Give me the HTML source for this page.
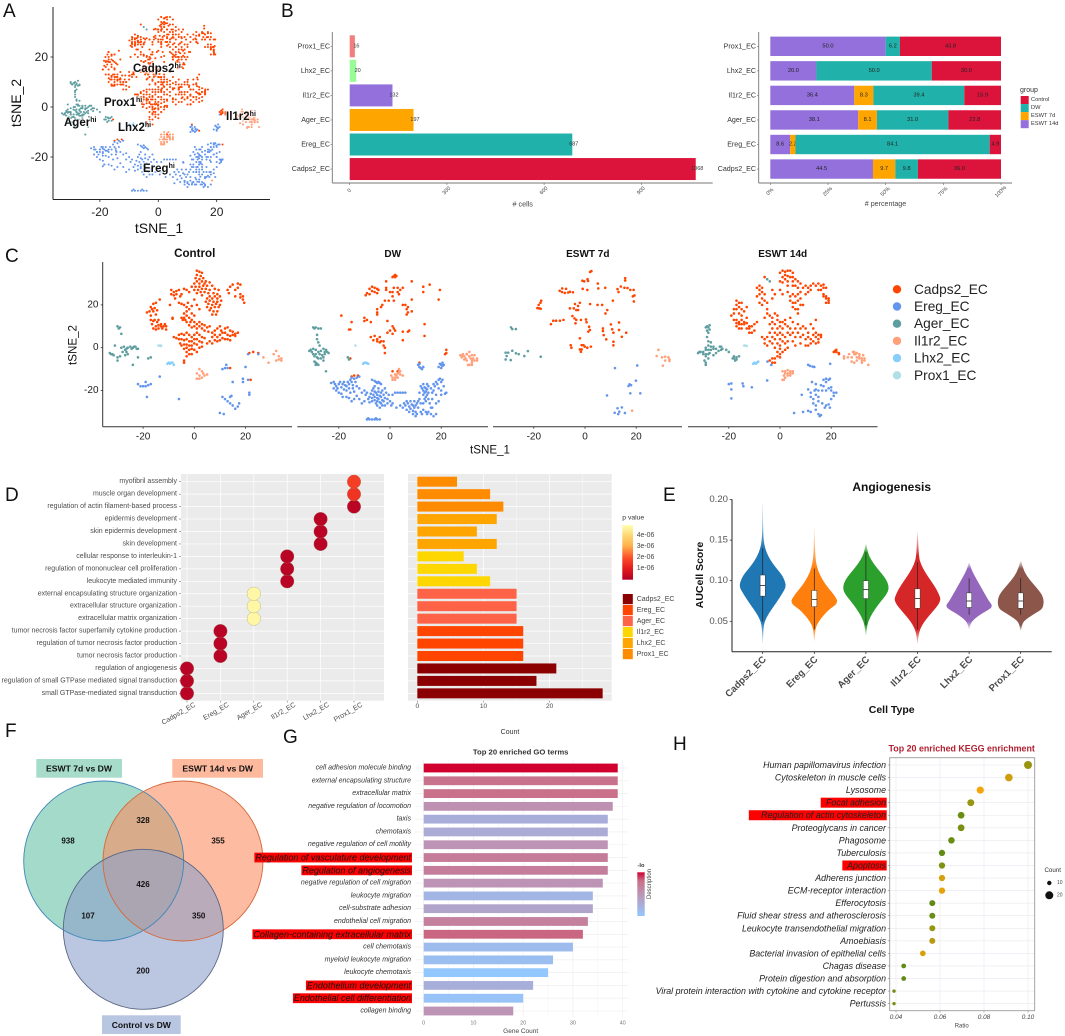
<!DOCTYPE html>
<html lang="en">
<head>
<meta charset="utf-8">
<title>Endothelial cell composite figure</title>
<style>
html,body{margin:0;padding:0;background:#fff;}
svg{display:block;font-family:"Liberation Sans",sans-serif;filter:blur(.3px);}
</style>
</head>
<body>
<svg id="figure" xmlns="http://www.w3.org/2000/svg" width="1065" height="1036" viewBox="0 0 1065 1036">
<defs id="sharedDefs">
<linearGradient id="pGrad" x1="0" y1="1" x2="0" y2="0">
<stop offset="0" stop-color="#b10026"/><stop offset=".2" stop-color="#e31a1c"/><stop offset=".4" stop-color="#fc4e2a"/><stop offset=".62" stop-color="#feb24c"/><stop offset=".82" stop-color="#fed976"/><stop offset="1" stop-color="#ffffb2"/>
</linearGradient>
<linearGradient id="goGrad" x1="0" y1="1" x2="0" y2="0">
<stop offset="0" stop-color="#93c8ff"/><stop offset=".5" stop-color="#bd94b5"/><stop offset=".8" stop-color="#c9708b"/><stop offset="1" stop-color="#d0002f"/>
</linearGradient>
</defs>
<rect width="1065" height="1036" fill="#fff"/>
<g font-size="19" fill="#111">
<text x="3" y="17">A</text>
<text x="281" y="17">B</text>
<text x="5" y="262">C</text>
<text x="5" y="501">D</text>
<text x="663" y="501">E</text>
<text x="5" y="737">F</text>
<text x="283" y="743">G</text>
<text x="673" y="750">H</text>
</g>
<g id="panelA"></g>
<g id="panelALabels" font-size="11.5" font-weight="bold" fill="#111" stroke="#fff" stroke-opacity=".55" stroke-width="2.5" paint-order="stroke">
<text x="133" y="72">Cadps2<tspan dy="-4" font-size="7">hi</tspan></text>
<text x="104" y="106">Prox1<tspan dy="-4" font-size="7">hi</tspan></text>
<text x="64" y="126">Ager<tspan dy="-4" font-size="7">hi</tspan></text>
<text x="118" y="131">Lhx2<tspan dy="-4" font-size="7">hi</tspan></text>
<text x="226" y="120">Il1r2<tspan dy="-4" font-size="7">hi</tspan></text>
<text x="143" y="172">Ereg<tspan dy="-4" font-size="7">hi</tspan></text>
</g>
<g id="panelB"></g>
<g id="panelC"></g>
<g id="panelD"></g>
<g id="panelE"></g>
<g>
<rect x="36.3" y="759" width="85.7" height="18.7" fill="#a6dcc9"/>
<rect x="172.3" y="759" width="90.7" height="18.7" fill="#fdb99e"/>
<rect x="102" y="1015.3" width="78.7" height="18.7" fill="#b9c6e2"/>
<circle cx="103.7" cy="861" r="80" fill="#66c2a5" fill-opacity=".6"/>
<circle cx="183" cy="861" r="80" fill="#fc8d62" fill-opacity=".6"/>
<circle cx="143.3" cy="929.3" r="80" fill="#8da0cb" fill-opacity=".6"/>
<circle cx="103.7" cy="861" r="80" fill="none" stroke="#3f86b8" stroke-width=".9"/>
<circle cx="183" cy="861" r="80" fill="none" stroke="#d4683a" stroke-width=".9"/>
<circle cx="143.3" cy="929.3" r="80" fill="none" stroke="#5a6684" stroke-width=".9"/>
<g font-weight="bold" fill="#111" text-anchor="middle" dominant-baseline="central">
<text x="79" y="768.5" font-size="8.6">ESWT 7d vs DW</text>
<text x="217.7" y="768.5" font-size="8.6">ESWT 14d vs DW</text>
<text x="141.3" y="1024.8" font-size="8.6">Control vs DW</text>
<g font-size="8">
<text x="68" y="841">938</text>
<text x="143" y="820.7">328</text>
<text x="218" y="841">355</text>
<text x="143" y="884.7">426</text>
<text x="88" y="916">107</text>
<text x="198.7" y="916">350</text>
<text x="143" y="971">200</text>
</g>
</g>
</g>
<g id="panelG"></g>
<g id="panelH"></g>
</svg>

<script>
const SVG_NS = 'http://www.w3.org/2000/svg';
function mk(parent, tag, attrs, content) {
  const e = document.createElementNS(SVG_NS, tag);
  for (const k in attrs) e.setAttribute(k, attrs[k]);
  if (content !== undefined) e.textContent = content;
  parent.appendChild(e);
  return e;
}
function seg(parent, x1, y1, x2, y2, stroke, width) {
  return mk(parent, 'line', { x1: x1, y1: y1, x2: x2, y2: y2, stroke: stroke, 'stroke-width': width });
}
function lbl(parent, x, y, s, size, anchor, fill, extra) {
  const a = Object.assign({ x: x, y: y, 'font-size': size, 'text-anchor': anchor, fill: fill, 'dominant-baseline': 'central' }, extra || {});
  return mk(parent, 'text', a, s);
}
</script>

<script>
/* ---------- Panels A and C: tSNE coordinates by condition ---------- */
const controlCadps2 = [[1,36],[2,35.5],[3,35],[1,34],[2.5,33.5],[0.5,32.5],[2,32],[3.5,32.5],[1,31],[3,31],[4.5,31],[0,30],[2,30],[4,30],[6,30.5],[-1,28.5],[0.5,28.5],[2,28.5],[3.5,29],[5,29],[7,29],[0,27],[1.5,27],[3,27.5],[4.5,27.5],[6,27],[8,27.5],[9.5,27],[1,25.5],[2.5,26],[4,26],[5.5,25.5],[7.5,25.5],[9,25],[3,24.5],[6,24],[8,24],[10,24],[5,23],[7,23],[9,23],[4.5,21.5],[6,22],[7.5,21.5],[9,21.5],[10.5,22],[5.5,20.5],[7,20],[8.5,20.5],[10,20],[5,19],[6.5,18.5],[8,19],[9.5,19],[6,17.5],[7.5,17],[9,17],[7,15.5],[8.5,15.5],
[13,27],[14,28.5],[13.5,25.5],[16,27],[15,29.5],[17,30],[18,29.5],[17,28],[18,25],[16,24],[18,23.5],[19,24],[19,22.5],[19.5,21],
[-9,27],[-8,26],[-7,26.5],[-6,27],[-5,25],[-9,25],[-8,24.5],[-7.5,23],[-4,27.5],[-7,25],[-5.5,24],[-3,27],[-2,26],[-9.5,20],[-6,21],[-5,20.5],[-4,20],[-3,19],[-2.5,21],[-2,18],[-1,19.5],[-3,17],[-1,16],[1,20],[2,18],[0,22.5],
[-18.5,16.5],[-17.5,17],[-17,19],[-16,20.5],[-15,21],[-16.5,18],[-15.5,18.5],[-14.5,17.5],[-16,17],[-17,15],[-15,15.5],[-13.5,22.5],[-17,13],[-16,12.5],[-15.5,13],[-14.5,12],[-14,13],[-13,11],[-16.5,11],[-15,10],[-14,10.5],[-13,10],[-12,10],[-11.5,11],[-11,10],[-12.5,9],[-14,9],[-15,8.5],[-16,9],[-11,8.5],[-8.5,13.5],[-8.5,14],
[-4,16],[-3,15],[-5,14],[-4,14],[-3.5,13],[-2,14],[-1,13],[0,15],[-4.5,13],[-3,12],[-1.5,12],[0,12],[1,11],[2,12],[3,11],[0,10],[-2,10.5],[-1,9.5],[1,9],[2,10],[3,9],[4,10.5],[5,9.5],[6,10],[4,8],[5.5,7.5],[7,7],[8,8],[9,9],[10,10],[10.5,8],[11,7],[12,9],[13,9.5],[14,8],[15,7.5],[16,6.5],[17,7],[16,5.5],[15,6],[14,5.5],[13,6],[12,7],[10,6],[9,5],[8,6],[7,5],[11,4.5],[12,4],[13,4],[14,3.5],[10,3.5],[9,3],[8,3.5],[7,2],[6,3],[5,2],[4,4.5],[3,5],[2,6],[1,7],[0,6],[-1,5],[-2,6],[-3,7],[-4,6],[-5,6.5],[-6,6],[-8,5],[-7,4.5],[-6,4],[-5,4],[-4,3.5],[-3,4],[-2,3],[-1,3],[0,4],[1,4],[2,3],[3,2.5],[-5.5,2],[-5,1],[-4,1.5],[-3,1.5],[-2,1],[-1,1],[0,2],[1,1.5],[2,0],[3,0.5],[-3,0],[-2,-1],[-1,-0.5],[0,-1],[1,-2],[-3,-2],[-2,-3],[-1,-3],[-4,-0.5],[-3,-4],[-4,-6],[-4,-7],[21.5,-2.5],[23,-2],[25,-2.5],[22,-15],[14,-9.5]];
const controlEreg = [[-22,-17],[-21,-18],[-20,-18],[-19,-16],[-19,-18],[-18,-17.5],[-17,-17],[-18.5,-23],[-13.5,-13.5],[-6,-24],[10,-30.5],[11.5,-31],[11,-23],[12,-24],[13,-25],[14,-26],[14,-23],[14.5,-22.5],[15,-27],[16,-28.5],[17,-27.5],[17.5,-26],[15,-16],[19,-16],[19,-14.5],[21,-15],[21.5,-21],[21.5,-22],[20,-9],[12,-9.5],[12.5,-8],[13,-9.5],[11,-10],[21,-3],[25,-3]];
const controlAger = [[-30,10],[-29.5,9],[-29,9.5],[-28.5,6.5],[-31,1],[-33,-2.5],[-32.5,-3],[-32,-3],[-31.5,-3.5],[-30,-6],[-30,-4.5],[-29,-4],[-28,-2],[-28.5,0],[-27.5,0.5],[-27,-1],[-26.5,-2],[-26,-3],[-27,-3.5],[-26.5,-0.5],[-26,0],[-25,0.5],[-24.5,-0.5],[-24,0],[-23.5,0.5],[-23,0.5],[-22.5,-0.5],[-22,-0.5],[-22,-4.5],[-18,-5],[-17,-4.5],[-24,-8]];
const controlIl1r2 = [[2,-10],[3,-11],[3.5,-12],[1,-12],[2,-13],[4,-13],[5,-12.5],[1,-14.5],[2,-14.5],[3,-14],[27,-4.5],[29,-7],[31,-3],[32,-1.5],[33,-4],[33,-5.5],[34,-5],[34,-6],[32,-6]];
const controlLhx2 = [[-10.5,-7.5],[-10,-7],[-9.5,-7.5],[-9,-7],[-8.5,-7],[-8,-8]];
const controlProx1 = [[-14,1],[-13.5,1],[-13,1],[-13,0.8]];

const dwCadps2 = [[1.5,33.5],[2,34],[2.5,33.5],[1,33],[2,33],[-1.5,31],[8.5,31],[-7,28.5],[-6,28],[-8,27.5],[-7,26.5],[-6,26],[-5,27.5],[-4.5,27],[-5,25.5],[-9.5,24.5],[-9,25.5],[-8,25],[-1.5,27],[-1.5,28],[1.5,28],[0,26],[1,26],[3,28],[4,27],[5,28],[3,26],[3.5,25],[1,24],[-0.5,22],[1.5,22],[-2,22],[-3,20],[-3.5,19],[-5,18],[-5,16.5],[-5,15.5],[5,20],[6,20],[7,19],[6.5,18],[7,16.5],[8.5,17],[6.5,15.5],[8.5,22.5],[13,28.5],[13,26],[15.5,29.5],[19.5,27],[19,22.5],[-19,15],[-15,12],[-10,14],[-10,12.5],[-9,13],[-7.5,12],[-15.5,8.5],[-16,8.5],[-1,12.5],[1,10],[1.5,9],[0,8],[-1,7],[1,6.5],[2,8],[5,7.5],[7,7.5],[7.5,8],[13.5,11],[13.5,5.5],[5,3.5],[-7.5,5],[-6,5.5],[-5,4],[-6.5,3.5],[-4,5],[-5,3],[-4,2.5],[-3.5,3],[-2.5,3],[-2.5,1],[-2,0],[-2,-2.5],[22,-1],[22,-2.5],[21.5,-3],[11.5,-7],[-15,-13.5],[-14,-13],[-12.5,-13],[-15.5,-5],[1,-11],[3,-11],[30,-3]];
const dwEreg = [[-23,-16.5],[-22,-16],[-21.5,-17],[-21,-18],[-22,-19],[-21,-20],[-20.5,-19],[-20,-17],[-19.5,-16],[-19,-18.5],[-18.5,-17],[-18,-16],[-17.5,-17.5],[-17,-18],[-16.5,-16],[-16,-17],[-15.5,-15],[-15,-16],[-14.5,-17.5],[-15,-14],[-14,-14.5],[-13.5,-16],[-13,-14],[-12,-13.5],[-18,-19.5],[-17,-20],[-16,-19],[-15.5,-21],[-14.5,-19],[-14,-20.5],[-13,-18],[-12,-19],[-20,-21],[-19,-21.5],[-18.5,-23],[-17,-23],[-16,-23.5],[-15,-25],[-14,-24],[-13,-22.5],[-12,-24],[-11,-21],[-10,-20],[-11,-26],[-10,-25],[-9.5,-22],
[-9,-21],[-8.5,-24],[-8,-23],[-8,-25.5],[-7.5,-21.5],[-7,-20],[-7,-23.5],[-7,-25],[-6.5,-22],[-6,-18],[-6.5,-19],[-6,-20.5],[-6,-23],[-6,-24.5],[-5.5,-26],[-5.5,-21],[-5,-22],[-5,-23.5],[-5,-25],[-5,-27],[-4.5,-19],[-4.5,-20.5],[-4.5,-24],[-4,-22.5],[-4,-25.5],[-4,-28],[-3.5,-21],[-3.5,-23],[-3.5,-26],[-3,-24.5],[-3,-20],[-3,-27],[-2.5,-22],[-2.5,-25],[-2,-23.5],[-2,-19],[-2,-27],[-1.5,-21],[-1,-24],[-1,-26],[-0.5,-22],[0,-25],[0.5,-27],[-7,-15],[-6,-15.5],[-5.5,-16],[-5,-16.5],[-4.5,-16],[-4,-16.5],[-3.5,-17],
[-9,-33.5],[-8,-33.5],[-7,-33.5],[-6,-33.5],[-5,-33.5],[-4,-33.5],[-8.5,-33],[-5.5,-33],
[1,-22],[2,-21],[3,-21],[4,-21],[5,-21],[6,-21],[1,-26],[2.5,-28],[4,-27],[5,-28],[5.5,-26],[6,-27],[6.5,-25],[6.5,-29],[7,-26],[7.5,-27.5],[7.5,-30],[8,-25],[8,-28.5],[8.5,-26.5],[9,-27],[9,-29.5],[9,-31],[9.5,-25],[9.5,-28],[10,-27],[10,-30],[10,-32],[10.5,-26],[10.5,-31],[11,-28],[11,-25],[12,-30],[12.5,-31],[13,-29],[14,-30],[14.5,-31],[15,-30],[16,-31],[17,-32],[18,-31],[16,-28],
[12,-18],[12.5,-19],[13,-17],[13,-20],[13,-22],[13.5,-18.5],[13.5,-21],[13.5,-24],[14,-19],[14,-20.5],[14,-23],[14,-25],[14.5,-17],[14.5,-19.5],[14.5,-22],[15,-18],[15,-21],[15,-24],[11.5,-21],[11.5,-24],[12,-26],[13,-26],[15.5,-26],[16,-19],[16.5,-21],[16.5,-24],[17,-17],[17,-20],[17.5,-18],[18,-16],[18,-22],[18.5,-17],[19,-15],[19,-19],[19.5,-14.5],[20,-16],[20,-20],[20.5,-15],[21,-18],[21.5,-21.5],[22,-21],[20,-22],[19,-25],[18,-26],[16.5,-28],
[11,-8],[11.5,-9],[12,-9.5],[12.5,-10],[11.5,-7.5],[13,-9],[19.5,-7.5],[20,-8],[20.5,-8.5],[20,-9.5],[19,-9],[20.5,-7],[21,-8]];
const dwAger = [[-30,9.5],[-29.5,9],[-29,9.5],[-28,9],[-27,9],[-28.5,6],[-28.5,4],[-28,2.5],[-27.5,1],[-31,-1],[-31.5,-1.5],[-30.5,-2],[-30,-0.5],[-30,-3],[-29.5,-4],[-29,-1],[-29,-3],[-28.5,-4.5],[-28,-2],[-28,-5],[-27.5,-3],[-27,-1.5],[-27,-5],[-26.5,-3.5],[-26,-0.5],[-25.5,-2],[-25.5,-3],[-25,-1],[-24.5,-2],[-24,-2.5],[-29.5,-6.5],[-29,-7],[-29,-8],[-28.5,-7.5],[-28,-8],[-26,-6],[-26,-4.5],[-25,-11],[-16.5,-4.5],[-16,-5.5]];
const dwIl1r2 = [[0.5,-13],[1,-14],[2,-15],[2,-12.5],[2.5,-13],[3,-14],[3,-12],[3.5,-11.5],[4,-12.5],[4,-11],[5,-13],[1,-15],[2,-14],[3.5,-10],[27.5,-3.5],[28,-4.5],[28.5,-3],[29,-4],[29.5,-5],[30,-3],[30,-6],[31,-4],[31,-2],[31.5,-5],[32,-3.5],[32,-6],[32,-7],[32.5,-5],[33,-3.5],[33,-6],[34,-5],[34,-6],[30.5,-8],[31,-8],[32,-8],[28,-4],[29,-5.5]];
const dwLhx2 = [[-10.5,-7.5],[-10,-7],[-9.5,-7],[-9,-7.2],[-8.5,-7.5]];
const dwProx1 = [[-13.5,1]];

const eswt7Cadps2 = [[2.5,35.8],[2,35.4],[-1,31.3],[-0.3,31],[1,32],[1.2,31.2],[5,30],[5.2,27.7],[7.9,28],[-0.9,27.5],[0.9,27],[15.7,32.5],[15.7,31.4],[14,28.6],[12.7,27.4],[13.1,26],[15.4,28],[16.6,27.9],[17.7,27],[19,27],[18.7,24],[19.3,24.4],[19.1,21.6],[10.9,22],[-9.9,26.6],[-8.9,27.7],[-9,26],[-7.9,25.6],[-7.4,27.5],[-6.6,25.8],[-5.9,26.1],[-4.7,25.9],[-17.1,22],[-17.4,21],[-18.1,20],[-18.6,18.5],[-17.3,18.2],[-17.9,18.4],
[-3.9,20.4],[-2,21],[-5.9,18.4],[-4.4,18.4],[-2.7,19.5],[-3.4,17.6],[-2.7,17.6],[2,20.4],[4.9,20],[6.7,20],[8.7,17.6],[8,16],[-13.3,11],[-12.4,12.6],[-11.3,12.6],[-9.8,12.6],[-8.4,13],[-4.9,14.8],[-4.1,13.7],[-3.4,13],[-1.6,13],[0.4,13.2],[0.6,11.9],[-3.7,11.4],[1.6,9.8],[1.3,7.5],[1.9,8.3],[-2,4.4],[-5.6,1.2],[-5.3,0],[-1.3,1.2],[-0.6,1.2],[-2,-0.8],[-1.3,-0.8],[-0.1,0.5],[0.9,0],[2.3,0.5],[-1.6,-1.9],[7,9],[7,7.8],[10.1,10.9],[10.6,8.6],[13.3,11.8],[13.3,8.3],[16.1,7],[14.4,5.1],[7.3,5.9],[8.3,3.9],[11.1,7],[11.1,2.8],[11.1,1.1]];
const eswt7Ereg = [[11.7,-9.5],[20.4,-8.3],[19.9,-15.4],[17.4,-17.1],[17,-17.9],[18,-17.5],[17.7,-21.3],[21.6,-21.3],[8.6,-22.3],[14.4,-27.9],[12.7,-28.3],[11.6,-30.4],[13,-31],[15.6,-30.5],[13.4,-29.9]];
const eswt7Ager = [[-28.9,9.5],[-27,8.7],[-28.4,8.7],[-31,-2.3],[-30,-2.3],[-28.4,-1.4],[-30.6,-3.9],[-31,-5.5],[-29,-5.8],[-27,-2.6],[-25.9,-3],[-23.7,-3.9],[-22.3,-1.6],[-17.3,-4.2]];
const eswt7Il1r2 = [[28.7,-1],[28,-3.9],[30.1,-4.5],[31.3,-4.2],[32.6,-4.5],[33,-5.5],[31.3,-6],[33,-6.2],[30.4,-8.4],[18.4,-29.4]];
const eswt7Lhx2 = [];
const eswt7Prox1 = [];

const eswt14Cadps2 = [[0,35],[1,36],[2,35.5],[3,36],[4,36],[5,35],[2,34],[3,33.5],[1,33],[2,32],[4,33],[5,33],[0,31],[1,30.5],[3,31],[5,31],[6,32],[7,31],[-6,33],[3,29],[5,29],[6,29],[7,28],[8,30],[9,28],[10,29],[11,28],[12,29],[13,30],[12,27],[11,26],[10,25],[14,29],[15,30],[16,29],[17,29.5],[17,28],[18,28],[16,27],[15,27],[17,25],[18,24],[17,24],[18,23],[19,22],[19,21],[18,21],[19,23],
[-9,28],[-8,29],[-8,27],[-7,28],[-7,26],[-6,25],[-8,25],[-9,24],[-7,23],[-6,22],[-8,21],[-7,20],[-5,21],[-5,18],[-3,23],[-2,25],[-3,27],[0,27],[1,25],[3,26],[4,24],[4,22],[5,25],[6,24],[7,25],[8,26],[8,23],[5,21],[6,21],[7,22],[8,20],[9,20],[5,19],[6,18],[7,18],[7,16],
[-19,15],[-18,16],[-18,18],[-17,20],[-16,21],[-17,22],[-15,21],[-16,19],[-15,18],[-17,18],[-16,16],[-14,17],[-15,15],[-13,19],[-13,14],[-18,13],[-17,13],[-17,11.5],[-16,11],[-16,12],[-15,13],[-15,11],[-14,11],[-14,12],[-13,11.5],[-17,10],[-16,9],[-15,9],[-13,9],[-12,9],[-12,10],[-11,10],[-10,11],[-10,8],[-9,12],[-11,7],[-12,7],
[-6,14],[-5,16],[-4,15],[-3,14],[-2,16],[-1,15],[-3,12],[-2,11],[-1,13],[0,12],[-4,11],[1,12],[2,13],[0,10],[1,9],[-1,9],[2,11],[3,10],[4,14],[5,12],[6,9],[7,11],[8,9],[9,10],[10,9],[11,7],[12,11],[13,9],[14,7],[14,13],[13,6],[14,5],[15,6],[15,4],[16,6],[16,5],[15,2.5],[14,2],[13,3],[12,4],[11,5],[12,2],[11,1],[10,4],[10,1],[9,6],[8,5],[8,2],[7,7],[6,5],[6,1],[5,3],[5,7],[4,6],[4,9],[3,7],[3,3],[2,5],[2,2],[1,6],[1,3],[0,7],[0,4],[0,1],[-1,6],[-1,2],[-2,4],[-2,7],[-2,0],[-3,5],[-3,9],[-3,2],[-4,7],[-4,3],[-5,5],[-6,4],[-6,2],[-7,5],[-5,1],[-1,-2],[0,-3],[1,-2],[2,-1],[0,-0.5],[3,0],[-1,-4],[0,-4.5],[-2,-5],[-3,-5],[-3,-7],[-4,-6],[-2,-7],
[22,-1],[22,-2],[21.5,-1.5],[21,-2],[23,-2.5],[23,-3]];
const eswt14Ereg = [[-4.9,-6.5],[-3.4,-8],[-20,-17],[-19,-16.7],[-19,-19.5],[-14.6,-16.7],[-14.3,-18],[-11,-18.5],[-19,-23.7],[-5,-15.3],[11,-8],[11.7,-8.5],[12.7,-8.8],[13.4,-9],[19.6,-7.5],
[12.5,-16],[14,-17],[17,-15],[18,-14.5],[18,-16],[19,-15],[19.5,-14.5],[14,-19.5],[16,-17.5],[17,-18],[11,-19.5],[12,-21],[13.5,-20],[15,-20],[16.5,-20],[18,-20],[19,-19],[20,-18.5],[20,-20],[21,-21],[22,-21],[21,-22.5],[20,-24],[8.5,-22],[12,-23],[13,-24],[14,-22],[15,-23],[15,-25],[13,-26],[14,-27],[16.5,-26],[18,-27],[19,-26.5],[17.5,-28],[14,-29],[15,-31],[16,-31.5],[15.5,-32],[9,-30],[5.5,-30.5],[11,-29.5],[12,-30],[19.5,-28]];
const eswt14Ager = [[-29,9.5],[-28.5,10],[-28,9.5],[-27.5,10.5],[-28.5,8],[-27.5,8.5],[-28,7],[-28.5,5],[-28,3],[-27,2.5],[-28,1],[-27,0.5],[-29,0],[-29,-1],[-28,-1],[-27,-1],[-26,-0.5],[-26,0.5],[-25,-0.5],[-30,-2],[-31,-2],[-32,-2.5],[-31.5,-2],[-30,-3],[-29,-3],[-28,-3],[-27.5,-2.5],[-26,-3.5],[-25,-2.5],[-24,-1.5],[-23.5,0.5],[-23,0.5],[-22.5,-0.5],[-23,-1],[-21,-1],[-20,-2],[-29,-4],[-28,-5],[-29.5,-6],[-29,-7],[-29,-8],[-18,-4],[-18,-5],[-17,-4.5],[-17.5,-6],[-18.5,-5],[-17,-5.5],[-16,-4],[-4,31],[-5,32]];
const eswt14Il1r2 = [[1,-11],[2,-11],[3,-10.5],[3,-12],[4,-11],[4,-12],[5,-11],[5,-12],[2,-12],[1.5,-13],[2,-14],[1,-15],[1.5,-15],[3,-13],[4,-13],[25,-4],[25,-5],[26.5,-4.5],[27,-3],[28,-4.5],[28.5,-2],[29,-3],[29,-2],[29.5,-3],[30,-2.5],[30,-4.5],[30,-6],[31,-3],[31,-4],[31,-5],[32,-5],[32,-6],[33,-5],[33,-6],[32.5,-3.5],[29,-7],[28,-6.5],[32,-7],[34.5,-8]];
const eswt14Lhx2 = [[-10.5,-7.5],[-10,-7],[-9.5,-7.5],[-9,-7],[-8.5,-6.5]];
const eswt14Prox1 = [[-14,1],[-13.5,1],[-13,0.8]];

const clusterNames = ['Cadps2_EC','Ereg_EC','Ager_EC','Il1r2_EC','Lhx2_EC','Prox1_EC'];
const conditionTitles = ['Control','DW','ESWT 7d','ESWT 14d'];
const tsneXTicks = [-20,0,20];
const tsneYTicks = [-20,0,20];

const clusterColors = ['#ff4500','#6495ed','#5f9ea0','#ffa07a','#87cefa','#b0e0e6'];
const conditionPoints = [
  [controlCadps2,controlEreg,controlAger,controlIl1r2,controlLhx2,controlProx1],
  [dwCadps2,dwEreg,dwAger,dwIl1r2,dwLhx2,dwProx1],
  [eswt7Cadps2,eswt7Ereg,eswt7Ager,eswt7Il1r2,eswt7Lhx2,eswt7Prox1],
  [eswt14Cadps2,eswt14Ereg,eswt14Ager,eswt14Il1r2,eswt14Lhx2,eswt14Prox1]
];

function drawPoints(g, pts, colorIdx, xs, ys, r) {
  pts.forEach(function (p) {
    const c = mk(g, 'circle', { cx: xs(p[0]), cy: ys(p[1]), r: r, fill: clusterColors[colorIdx] });
    
    
  });
}

/* Panel A */
(function () {
  const g = document.getElementById('panelA');
  const xA = function (v) { return 158.3 + v * 2.92; };
  const yA = function (v) { return 107 - v * 2.5; };
  conditionPoints.forEach(function (clusters) {
    clusters.forEach(function (pts, i) { drawPoints(g, pts, i, xA, yA, 1.05); });
  });
  const ya = seg(g, 53, 7, 53, 199.5, '#222', 1);
  
  
  const xa = seg(g, 53, 199.5, 270, 199.5, '#222', 1);
  
  
  tsneXTicks.forEach(function (t) {
    const k = seg(g, xA(t), 199.5, xA(t), 202, '#222', 0.8);
    
    
    const l = lbl(g, xA(t), 212, t, 12, 'middle', '#222');
    
    
  });
  tsneYTicks.forEach(function (t) {
    const k = seg(g, 50.5, yA(t), 53, yA(t), '#222', 0.8);
    
    
    const l = lbl(g, 48, yA(t), t, 12, 'end', '#222');
    
    
  });
  const xt = lbl(g, 159, 228, 'tSNE_1', 14, 'middle', '#111');
  
  
  const yt = lbl(g, 16, 103, 'tSNE_2', 14, 'middle', '#111', { transform: 'rotate(-90 16 103)' });
  
  
})();

/* Panel C */
(function () {
  const g = document.getElementById('panelC');
  const zeroX = [194.3, 390, 585, 780];
  const axisStart = [102.7, 297.3, 493, 688];
  const axisEnd = [292, 488, 682, 877.5];
  const titleX = [194.7, 392.7, 587.8, 782.7];
  const titleSize = [11.6, 10, 10, 10];
  const yC = function (v) { return 347.7 - v * 2.14; };
  conditionPoints.forEach(function (clusters, f) {
    const xC = function (v) { return zeroX[f] + v * 2.56; };
    clusters.forEach(function (pts, i) { drawPoints(g, pts, i, xC, yC, 1.3); });
    const a = seg(g, axisStart[f], 426.7, axisEnd[f], 426.7, '#333', 1);
    
    
    tsneXTicks.forEach(function (t) {
      const k = seg(g, xC(t), 426.7, xC(t), 428.7, '#333', 0.8);
      
      
      const l = lbl(g, xC(t), 437, t, 10, 'middle', '#222');
      
      
    });
    const tt = lbl(g, titleX[f], f === 0 ? 253.5 : 254.5, conditionTitles[f], titleSize[f], 'middle', '#111', { 'font-weight': 'bold' });
    
    
  });
  const ya = seg(g, 102.7, 262, 102.7, 426.7, '#333', 1);
  
  
  tsneYTicks.forEach(function (t) {
    const k = seg(g, 100.7, yC(t), 102.7, yC(t), '#333', 0.8);
    
    
    const l = lbl(g, 98.5, yC(t), t, 10, 'end', '#222');
    
    
  });
  const yt = lbl(g, 73, 345, 'tSNE_2', 11.6, 'middle', '#111', { transform: 'rotate(-90 73 345)' });
  
  
  const xt = lbl(g, 490, 450, 'tSNE_1', 11.6, 'middle', '#111');
  
  
  clusterNames.forEach(function (n, i) {
    const cy = 289.3 + i * 17.2;
    const c = mk(g, 'circle', { cx: 897, cy: cy, r: 4.2, fill: clusterColors[i] });
    
    
    const l = lbl(g, 914, cy, n, 13.7, 'start', '#222');
    
    
  });
})();
</script>

<script>
/* ---------- Panel B ---------- */
const cellTypes = ['Prox1_EC','Lhx2_EC','Il1r2_EC','Ager_EC','Ereg_EC','Cadps2_EC'];
const cellCounts = [16,20,132,197,687,1068];
const cellCountTicks = [0,300,600,900];
const percentEswt14d = [50.0,20.0,36.4,38.1,8.6,44.5];
const percentEswt7d = [0,0,8.3,8.1,2.3,9.7];
const percentDw = [6.2,50.0,39.4,31.0,84.1,9.8];
const percentControl = [43.8,30.0,15.9,22.8,4.9,36.0];
const percentTicks = [0,25,50,75,100];
const groupNames = ['Control','DW','ESWT 7d','ESWT 14d'];

(function () {
  const g = document.getElementById('panelB');
  const barColors = ['#f08080','#98fb98','#9370db','#ffa500','#20b2aa','#dc143c'];
  const groupColors = ['#dc143c','#20b2aa','#ffa500','#9370db'];
  const rowY = function (i) { return 46.3 + i * 24.55; };
  const countX = function (v) { return 349.7 + v * 0.324; };
  const pctX = function (v) { return 770.3 + v * 2.307; };

  cellTypes.forEach(function (n, i) {
    const r = mk(g, 'rect', { x: countX(0), y: rowY(i) - 11, width: countX(cellCounts[i]) - countX(0), height: 22, fill: barColors[i] });
    
    
    const v = lbl(g, countX(cellCounts[i]) + 1.5, rowY(i), cellCounts[i], 5.5, 'middle', '#333');
    
    
    const l = lbl(g, 330, rowY(i), n, 7.1, 'end', '#333');
    
    
    const k = seg(g, 330.5, rowY(i), 332.3, rowY(i), '#666', 0.6);
    
    

    const stack = [percentEswt14d[i], percentEswt7d[i], percentDw[i], percentControl[i]];
    const stackColor = [groupColors[3], groupColors[2], groupColors[1], groupColors[0]];
    const total = stack.reduce(function (a, b) { return a + b; }, 0);
    let cum = 0;
    stack.forEach(function (val, s) {
      if (val <= 0) return;
      const share = val / total * 100;
      const seglet = mk(g, 'rect', { x: pctX(cum), y: rowY(i) - 9.7, width: pctX(share) - pctX(0), height: 19.4, fill: stackColor[s] });
      
      
      const t = lbl(g, pctX(cum + share / 2), rowY(i), val.toFixed(1), 5.7, 'middle', '#222');
      
      
      cum += share;
    });
    const l2 = lbl(g, 756, rowY(i), n, 7.1, 'end', '#333');
    
    
    const k2 = seg(g, 757, rowY(i), 758.7, rowY(i), '#666', 0.6);
    
    
  });

  const a1 = seg(g, 332.3, 32, 332.3, 183, '#777', 0.9);
  
  
  const a2 = seg(g, 332.3, 183, 712.7, 183, '#777', 0.9);
  
  
  const a3 = seg(g, 758.7, 32, 758.7, 183, '#777', 0.9);
  
  
  const a4 = seg(g, 758.7, 183, 1012, 183, '#777', 0.9);
  
  

  cellCountTicks.forEach(function (t) {
    const k = seg(g, countX(t), 183, countX(t), 185, '#666', 0.6);
    
    
    const x = countX(t);
    const l = lbl(g, x, 191, t, 5.4, 'middle', '#444', { transform: 'rotate(-45 ' + x + ' 191)' });
    
    
  });
  percentTicks.forEach(function (t) {
    const k = seg(g, pctX(t), 183, pctX(t), 185, '#666', 0.6);
    
    
    const x = pctX(t);
    const l = lbl(g, x, 192, t + '%', 5.4, 'middle', '#444', { transform: 'rotate(-45 ' + x + ' 192)' });
    
    
  });
  const t1 = lbl(g, 522.7, 204, '# cells', 7.2, 'middle', '#444');
  
  
  const t2 = lbl(g, 885.5, 204, '# percentage', 7.1, 'middle', '#444');
  
  

  const lt = lbl(g, 1020, 90.7, 'group', 7, 'start', '#333');
  
  
  groupNames.forEach(function (n, i) {
    const s = mk(g, 'rect', { x: 1020.7, y: 96 + i * 8.05, width: 8, height: 8.05, fill: groupColors[i] });
    
    
    const l = lbl(g, 1031, 100 + i * 8.05, n, 5.7, 'start', '#333');
    
    
  });
})();
</script>

<script>
/* ---------- Panel D ---------- */
const goTermNames = ['myofibril assembly','muscle organ development','regulation of actin filament-based process','epidermis development','skin epidermis development','skin development','cellular response to interleukin-1','regulation of mononuclear cell proliferation','leukocyte mediated immunity','external encapsulating structure organization','extracellular structure organization','extracellular matrix organization','tumor necrosis factor superfamily cytokine production','regulation of tumor necrosis factor production','tumor necrosis factor production','regulation of angiogenesis','regulation of small GTPase mediated signal transduction','small GTPase-mediated signal transduction'];
const goClusterNames = ['Cadps2_EC','Ereg_EC','Ager_EC','Il1r2_EC','Lhx2_EC','Prox1_EC'];
const goTermCluster = [5,5,5,4,4,4,3,3,3,2,2,2,1,1,1,0,0,0];
const goTermPValue = [1.7,1.5,0.2,0.15,0.15,0.15,0.15,0.15,0.15,4.7,4.7,4.7,0.15,0.15,0.15,0.15,0.15,0.15];
const goTermCount = [6,11,13,12,9,12,7,9,11,15,15,15,16,16,16,21,18,28];
const countTicks = [0,10,20];
const pValueTicks = [4,3,2,1];

(function () {
  const g = document.getElementById('panelD');
  const rowY = function (i) { return 481.7 + i * 12.45; };
  const colX = function (i) { return 187 + i * 33.4; };
  const countX = function (v) { return 417.3 + v * 6.62; };
  const clusterBar = ['#8b0000','#ff4500','#ff6347','#ffd700','#ffa500','#ff8c00'];
  const stops = [[0,[177,0,38]],[1,[227,26,28]],[2,[252,78,42]],[3,[254,178,76]],[4,[254,217,118]],[4.9,[255,255,178]]];
  function pColor(v) {
    for (let i = 1; i < stops.length; i++) {
      if (v <= stops[i][0]) {
        const a = stops[i - 1], b = stops[i], t = (v - a[0]) / (b[0] - a[0]);
        return 'rgb(' + [0, 1, 2].map(function (c) { return Math.round(a[1][c] + (b[1][c] - a[1][c]) * t); }).join(',') + ')';
      }
    }
    return 'rgb(255,255,178)';
  }
  const bg1 = mk(g, 'rect', { x: 181, y: 474, width: 203, height: 226.7, fill: '#ebebeb' });
  
  
  const bg2 = mk(g, 'rect', { x: 408, y: 474, width: 203.7, height: 226.7, fill: '#ebebeb' });
  
  

  goClusterNames.forEach(function (n, i) {
    const v = seg(g, colX(i), 474, colX(i), 700.7, '#fff', 0.7);
    
    
    const k = seg(g, colX(i), 700.7, colX(i), 702.5, '#555', 0.5);
    
    
    const ax = colX(i) + 9, ay = 706;
    const l = mk(g, 'text', { x: ax, y: ay, 'font-size': 7, 'text-anchor': 'end', fill: '#4d4d4d', transform: 'rotate(-30 ' + ax + ' ' + ay + ')' }, n);
    
    
  });
  [0,5,10,15,20,25].forEach(function (t) {
    const v = seg(g, countX(t), 474, countX(t), 700.7, '#fff', t % 10 === 0 ? 0.7 : 0.35);
    
    
  });
  goTermNames.forEach(function (n, i) {
    const h1 = seg(g, 181, rowY(i), 384, rowY(i), '#fff', 0.7);
    
    
    const h2 = seg(g, 408, rowY(i), 611.7, rowY(i), '#fff', 0.7);
    
    
    const t = lbl(g, 177, rowY(i), n, 7, 'end', '#4d4d4d');
    
    
    const k = seg(g, 179, rowY(i), 181, rowY(i), '#555', 0.5);
    
    
  });
  goTermNames.forEach(function (n, i) {
    const b = mk(g, 'rect', { x: countX(0), y: rowY(i) - 5, width: countX(goTermCount[i]) - countX(0), height: 10, fill: clusterBar[goTermCluster[i]] });
    
    
  });
  goTermNames.slice().reverse().forEach(function (n, ri) {
    const i = goTermNames.length - 1 - ri;
    const d = mk(g, 'circle', { cx: colX(goTermCluster[i]), cy: rowY(i), r: 6.8, fill: pColor(goTermPValue[i]), stroke: '#8a8a6a', 'stroke-opacity': .55, 'stroke-width': .5 });
    
    
  });
  countTicks.forEach(function (t) {
    const k = seg(g, countX(t), 700.7, countX(t), 702.5, '#555', 0.5);
    
    
    const l = lbl(g, countX(t), 706.5, t, 6.6, 'middle', '#4d4d4d');
    
    
  });
  const xt = lbl(g, 510, 732.7, 'Count', 7, 'middle', '#333');
  
  
  const pt = lbl(g, 622.3, 518, 'p value', 6.8, 'start', '#333');
  
  
  const cb = mk(g, 'rect', { x: 622.3, y: 525, width: 10.7, height: 54.7, fill: 'url(#pGrad)' });
  
  
  pValueTicks.forEach(function (t) {
    const y = 579.8 - t * 11.13;
    const l = lbl(g, 636.7, y, t + 'e-06', 6.9, 'start', '#444');
    
    
  });
  goClusterNames.forEach(function (n, i) {
    const s = mk(g, 'rect', { x: 622.8, y: 594 + i * 11, width: 10, height: 10.2, fill: clusterBar[i] });
    
    
    const l = lbl(g, 636.7, 599.7 + i * 11, n, 7, 'start', '#444');
    
    
  });
})();
</script>

<script>
/* ---------- Panel E ---------- */
const violinCategories = ['Cadps2_EC','Ereg_EC','Ager_EC','Il1r2_EC','Lhx2_EC','Prox1_EC'];
const scoreTicks = [0.05,0.10,0.15,0.20];
const cadps2Profile = [[.195,.01],[.165,.015],[.15,.04],[.14,.1],[.13,.24],[.12,.46],[.112,.7],[.105,.88],[.098,.98],[.094,1],[.09,.97],[.08,.76],[.07,.52],[.06,.27],[.05,.08],[.04,.03],[.022,.01]];
const eregProfile = [[.165,.01],[.13,.03],[.115,.13],[.105,.28],[.095,.5],[.088,.7],[.082,.87],[.077,.98],[.074,1],[.07,.92],[.065,.66],[.058,.42],[.05,.2],[.042,.05],[.025,.01]];
const agerProfile = [[.145,.02],[.135,.07],[.125,.24],[.115,.5],[.105,.8],[.097,.96],[.09,1],[.083,.9],[.075,.66],[.065,.4],[.055,.18],[.045,.05],[.032,.01]];
const il1r2Profile = [[.16,.01],[.13,.05],[.12,.15],[.11,.34],[.1,.58],[.09,.82],[.08,.98],[.076,1],[.07,.9],[.06,.6],[.05,.3],[.04,.1],[.03,.03],[.022,.01]];
const lhx2Profile = [[.122,.02],[.115,.08],[.105,.26],[.095,.46],[.085,.66],[.075,.86],[.07,1],[.066,.96],[.06,.58],[.055,.32],[.05,.13],[.045,.04],[.04,.01]];
const prox1Profile = [[.124,.02],[.115,.1],[.105,.28],[.095,.58],[.085,.88],[.078,.99],[.072,1],[.065,.94],[.06,.64],[.055,.36],[.05,.13],[.045,.05],[.038,.01]];
const boxQ1 = [.081,.068,.078,.066,.067,.066];
const boxMedian = [.094,.077,.089,.078,.075,.075];
const boxQ3 = [.107,.088,.1,.09,.085,.085];
const whiskerLow = [.05,.04,.045,.04,.058,.058];
const whiskerHigh = [.14,.115,.135,.123,.103,.103];

(function () {
  const g = document.getElementById('panelE');
  const defs = document.getElementById('sharedDefs');
  const colors = ['#1f77b4','#ff7f0e','#2ca02c','#d62728','#9467bd','#8c564b'];
  const profiles = [cadps2Profile, eregProfile, agerProfile, il1r2Profile, lhx2Profile, prox1Profile];
  const colX = function (i) { return 762.7 + i * 51.6; };
  const scoreY = function (v) { return 621.3 - (v - 0.05) * 812; };
  const halfWidth = 23;
  function smoothPath(pts) {
    let d = 'M' + pts[0][0].toFixed(2) + ',' + pts[0][1].toFixed(2);
    for (let i = 1; i < pts.length - 1; i++) {
      const mx = (pts[i][0] + pts[i + 1][0]) / 2, my = (pts[i][1] + pts[i + 1][1]) / 2;
      d += 'Q' + pts[i][0].toFixed(2) + ',' + pts[i][1].toFixed(2) + ' ' + mx.toFixed(2) + ',' + my.toFixed(2);
    }
    const last = pts[pts.length - 1];
    return d + 'L' + last[0].toFixed(2) + ',' + last[1].toFixed(2);
  }
  violinCategories.forEach(function (n, i) {
    const pr = profiles[i], cx = colX(i);
    const top = scoreY(pr[0][0]), bottom = scoreY(pr[pr.length - 1][0]);
    const gr = mk(defs, 'linearGradient', { id: 'violinFade' + i, gradientUnits: 'userSpaceOnUse', x1: 0, x2: 0, y1: top, y2: bottom });
    const solidTop = (scoreY(pr.filter(function (p) { return p[1] >= .05; })[0][0]) - top) / (bottom - top);
    const solidBottom = 1 - (bottom - scoreY(pr.filter(function (p) { return p[1] >= .05; }).slice(-1)[0][0])) / (bottom - top);
    mk(gr, 'stop', { offset: 0, 'stop-color': colors[i], 'stop-opacity': .15 });
    mk(gr, 'stop', { offset: solidTop, 'stop-color': colors[i], 'stop-opacity': 1 });
    mk(gr, 'stop', { offset: solidBottom, 'stop-color': colors[i], 'stop-opacity': 1 });
    mk(gr, 'stop', { offset: 1, 'stop-color': colors[i], 'stop-opacity': .15 });
    const right = pr.map(function (p) { return [cx + p[1] * halfWidth, scoreY(p[0])]; });
    const left = pr.slice().reverse().map(function (p) { return [cx - p[1] * halfWidth, scoreY(p[0])]; });
    const v = mk(g, 'path', { d: smoothPath(right.concat(left)) + 'Z', fill: 'url(#violinFade' + i + ')' });
    
    
    const w = seg(g, cx, scoreY(whiskerLow[i]), cx, scoreY(whiskerHigh[i]), '#222', .7);
    
    
    const b = mk(g, 'rect', { x: cx - 2.6, y: scoreY(boxQ3[i]), width: 5.2, height: scoreY(boxQ1[i]) - scoreY(boxQ3[i]), fill: '#fff', stroke: '#333', 'stroke-width': .5 });
    
    
    const m = seg(g, cx - 2.6, scoreY(boxMedian[i]), cx + 2.6, scoreY(boxMedian[i]), '#222', .8);
    
    
    const k = seg(g, cx, 651.7, cx, 654, '#222', .7);
    
    
    const ax = cx + 4, ay = 660;
    const l = mk(g, 'text', { x: ax, y: ay, 'font-size': 9.6, 'font-weight': 'bold', 'text-anchor': 'end', fill: '#4a4a4a', transform: 'rotate(-45 ' + ax + ' ' + ay + ')' }, n);
    
    
  });
  scoreTicks.forEach(function (t) {
    const k = seg(g, 729.7, scoreY(t), 732, scoreY(t), '#222', .7);
    
    
    const l = lbl(g, 728, scoreY(t), t.toFixed(2), 9.6, 'end', '#555');
    
    
  });
  const ya = seg(g, 732, 499.3, 732, 651.7, '#222', 1);
  
  
  const xa = seg(g, 732, 651.7, 1051.7, 651.7, '#222', 1);
  
  
  const tt = lbl(g, 891.7, 487, 'Angiogenesis', 12, 'middle', '#111', { 'font-weight': 'bold' });
  
  
  const xt = lbl(g, 891.7, 710, 'Cell Type', 10.5, 'middle', '#111', { 'font-weight': 'bold' });
  
  
  const yt = lbl(g, 700, 575, 'AUCell Score', 10.5, 'middle', '#111', { 'font-weight': 'bold', transform: 'rotate(-90 700 575)' });
  
  
})();
</script>

<script>
/* ---------- Panel G ---------- */
const enrichedTerms = ['cell adhesion molecule binding','external encapsulating structure','extracellular matrix','negative regulation of locomotion','taxis','chemotaxis','negative regulation of cell motility','Regulation of vasculature development','Regulation of angiogenesis','negative regulation of cell migration','leukocyte migration','cell-substrate adhesion','endothelial cell migration','Collagen-containing extracellular matrix','cell chemotaxis','myeloid leukocyte migration','leukocyte chemotaxis','Endothelium development','Endothelial cell differentiation','collagen binding'];
const enrichedGeneCounts = [39,39,39,38,37,37,37,37,37,36,34,34,33,32,30,26,25,22,20,18];
const enrichedSignificance = [1,.78,.8,.53,.26,.28,.5,.7,.68,.5,.18,.35,.67,.82,.12,.1,0,.25,.05,.5];
const enrichedHighlighted = [0,0,0,0,0,0,0,1,1,0,0,0,0,1,0,0,0,1,1,0];
const geneCountTicks = [0,10,20,30,40];

(function () {
  const g = document.getElementById('panelG');
  const rowY = function (i) { return 768 + i * 12.79; };
  const countX = function (v) { return 423.7 + v * 4.975; };
  const stops = [[0,[147,200,255]],[.5,[189,148,181]],[.8,[201,112,139]],[1,[208,0,47]]];
  function sigColor(v) {
    for (let i = 1; i < stops.length; i++) {
      if (v <= stops[i][0]) {
        const a = stops[i - 1], b = stops[i], t = (v - a[0]) / (b[0] - a[0]);
        return 'rgb(' + [0, 1, 2].map(function (c) { return Math.round(a[1][c] + (b[1][c] - a[1][c]) * t); }).join(',') + ')';
      }
    }
    return 'rgb(208,0,47)';
  }
  [0,5,10,15,20,25,30,35,40].forEach(function (t) {
    const v = seg(g, countX(t), 760, countX(t), 1017, t % 10 === 0 ? '#ececec' : '#f5f5f5', .6);
    
    
  });
  enrichedTerms.forEach(function (n, i) {
    const h = seg(g, 415, rowY(i), 628, rowY(i), '#ececec', .6);
    
    
    const b = mk(g, 'rect', { x: countX(0), y: rowY(i) - 4.4, width: countX(enrichedGeneCounts[i]) - countX(0), height: 8.8, fill: sigColor(enrichedSignificance[i]) });
    
    
    const hi = enrichedHighlighted[i] === 1;
    const t = lbl(g, 411, rowY(i), n, hi ? 9 : 7, 'end', hi ? '#111' : '#333', { 'font-style': 'italic' });
    
    
    if (hi) {
      const w = t.getComputedTextLength();
      const r = mk(g, 'rect', { x: 411 - w - 1, y: rowY(i) - 4.9, width: w + 2, height: 9.8, fill: '#ff0000' });
      
      
      g.insertBefore(r, t);
    }
  });
  geneCountTicks.forEach(function (t) {
    const l = lbl(g, countX(t), 1023.7, t, 5.5, 'middle', '#777');
    
    
  });
  const tt = lbl(g, 520.7, 752, 'Top 20 enriched GO terms', 7.7, 'middle', '#333', { 'font-weight': 'bold' });
  
  
  const xt = lbl(g, 520.7, 1031.7, 'Gene Count', 6.5, 'middle', '#444');
  
  
  const cb = mk(g, 'rect', { x: 637.3, y: 872.3, width: 7.4, height: 43.7, fill: 'url(#goGrad)' });
  
  
  const lo = lbl(g, 641, 866, '-lo', 5.8, 'middle', '#333', { 'font-weight': 'bold' });
  
  
  const d = lbl(g, 650, 884, 'Description', 6, 'middle', '#444', { transform: 'rotate(-90 650 884)' });
  
  
})();
</script>

<script>
/* ---------- Panel H ---------- */
const keggTerms = ['Human papillomavirus infection','Cytoskeleton in muscle cells','Lysosome','Focal adhesion','Regulation of actin cytoskeleton','Proteoglycans in cancer','Phagosome','Tuberculosis','Apoptosis','Adherens junction','ECM-receptor interaction','Efferocytosis','Fluid shear stress and atherosclerosis','Leukocyte transendothelial migration','Amoebiasis','Bacterial invasion of epithelial cells','Chagas disease','Protein digestion and absorption','Viral protein interaction with cytokine and cytokine receptor','Pertussis'];
const keggRatio = [.1,.0913,.0783,.074,.0696,.0696,.0652,.0609,.0609,.0609,.0609,.0565,.0565,.0565,.0565,.0522,.0435,.0435,.0391,.0391];
const keggCount = [23,21,18,17,16,16,15,14,14,14,14,13,13,13,13,12,10,10,9,9];
const keggPValueRank = [.41,.75,1,.4,.1,.2,.1,.05,.25,.8,.9,.05,.1,.4,.6,.8,.05,.05,.15,.2];
const keggHighlighted = [0,0,0,1,1,0,0,0,1,0,0,0,0,0,0,0,0,0,0,0];
const ratioTicks = [.04,.06,.08,.10];
const sizeLegendCounts = [10,20];

(function () {
  const g = document.getElementById('panelH');
  const rowY = function (i) { return 765 + i * 12.56; };
  const ratioX = function (v) { return 896 + (v - .04) * 2200; };
  const radius = function (c) { return 1.7 + 2.3 * Math.pow((c - 9) / 14, .455); };
  const highlightPad = { 3: 6, 4: 13, 8: 5.5 };
  function rankColor(t) {
    return 'rgb(' + Math.round(90 + 155 * t) + ',' + Math.round(138 + 27 * t) + ',' + Math.round(20 - 10 * t) + ')';
  }
  ratioTicks.forEach(function (t) {
    const v = seg(g, ratioX(t), 757.7, ratioX(t), 1010.7, '#e6e8ef', .6);
    
    
    const k = seg(g, ratioX(t), 1010.7, ratioX(t), 1012.5, '#666', .5);
    
    
    const l = lbl(g, ratioX(t), 1017.7, t.toFixed(2), 6.4, 'middle', '#444', { 'font-style': 'italic' });
    
    
  });
  keggTerms.forEach(function (n, i) {
    const h = seg(g, 889.7, rowY(i), 1034.7, rowY(i), '#e6e8ef', .6);
    
    
    const k = seg(g, 887.8, rowY(i), 889.7, rowY(i), '#666', .5);
    
    
    const t = lbl(g, 886, rowY(i), n, 8.85, 'end', '#222', { 'font-style': 'italic' });
    
    
    if (keggHighlighted[i] === 1) {
      const w = t.getComputedTextLength() + highlightPad[i];
      const r = mk(g, 'rect', { x: 886.7 - w, y: rowY(i) - 5, width: w, height: 10, fill: '#ff0000' });
      
      
      g.insertBefore(r, t);
    }
    const d = mk(g, 'circle', { cx: ratioX(keggRatio[i]), cy: rowY(i), r: radius(keggCount[i]), fill: rankColor(keggPValueRank[i]) });
    
    
  });
  const box = mk(g, 'rect', { x: 889.7, y: 757.7, width: 145, height: 253, fill: 'none', stroke: '#9a9a9a', 'stroke-width': .9 });
  
  
  const tt = lbl(g, 961.7, 748.3, 'Top 20 enriched KEGG enrichment', 8.9, 'middle', '#b22030', { 'font-weight': 'bold' });
  
  
  const xt = lbl(g, 961.7, 1026.7, 'Ratio', 6, 'middle', '#444');
  
  
  const lt = lbl(g, 1052.7, 870.7, 'Count', 6.2, 'middle', '#333');
  
  
  sizeLegendCounts.forEach(function (c, i) {
    const y = 883 + i * 12.3;
    const d = mk(g, 'circle', { cx: 1049.3, cy: y, r: c === 10 ? 2.2 : 4, fill: '#111' });
    
    
    const l = lbl(g, 1057, y, c, 5, 'start', '#444');
    
    
  });
})();
</script>
</body>
</html>
